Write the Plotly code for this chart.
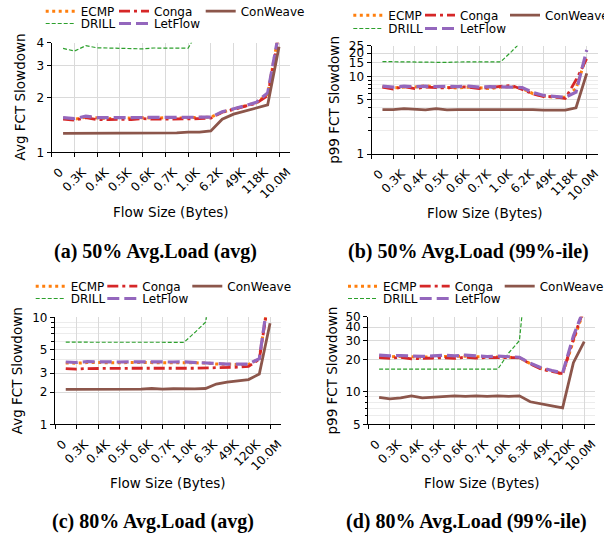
import math
import plotly.graph_objects as go

W, H = 604, 536

# ---------------- data ----------------
bin_x = [0.5, 1.0, 1.5, 2.0, 2.5, 3.0, 3.5, 4.0, 4.5, 5.0,
         5.5, 6.0, 6.5, 7.0, 7.5, 8.0, 8.5, 9.0, 9.5, 10.0]
tick_pos = [0, 1, 2, 3, 4, 5, 6, 7, 8, 9, 10]
ticks_50 = ["0", "0.3K", "0.4K", "0.5K", "0.6K", "0.7K", "1.0K", "6.2K", "49K", "118K", "10.0M"]
ticks_80 = ["0", "0.3K", "0.4K", "0.5K", "0.6K", "0.7K", "1.0K", "6.3K", "49K", "120K", "10.0M"]
schemes = ["ECMP", "DRILL", "Conga", "LetFlow", "ConWeave"]

# (a) 50% load, average slowdown
ecmp_a = [1.54, 1.52, 1.56, 1.54, 1.53, 1.55, 1.54, 1.55, 1.54, 1.55, 1.54, 1.55, 1.55, 1.56, 1.66, 1.73, 1.79, 1.87, 2.08, 4.6]
drill_a = [3.72, 3.60, 3.85, 3.75, 3.74, 3.73, 3.72, 3.70, 3.74, 3.73, 3.74, 3.73, 4.8, 8.0, 12, 16, 20, 25, 35, 60]
conga_a = [1.52, 1.50, 1.55, 1.51, 1.51, 1.52, 1.51, 1.53, 1.52, 1.52, 1.53, 1.53, 1.53, 1.54, 1.66, 1.72, 1.78, 1.86, 2.05, 4.4]
letflow_a = [1.55, 1.53, 1.58, 1.55, 1.55, 1.55, 1.55, 1.56, 1.55, 1.55, 1.56, 1.55, 1.56, 1.56, 1.67, 1.73, 1.80, 1.88, 2.12, 4.6]
conweave_a = [1.27, 1.27, 1.28, 1.27, 1.28, 1.27, 1.28, 1.27, 1.28, 1.28, 1.28, 1.29, 1.29, 1.31, 1.52, 1.62, 1.68, 1.75, 1.82, 3.8]

# (b) 50% load, p99 slowdown
ecmp_b = [7.4, 7.1, 7.3, 7.3, 7.6, 7.3, 7.2, 7.1, 7.3, 7.2, 7.0, 7.3, 7.4, 7.0, 6.0, 5.6, 5.4, 5.4, 7.0, 19]
drill_b = [15.6, 15.5, 15.6, 15.5, 15.4, 15.4, 15.2, 15.4, 15.5, 15.5, 15.5, 15.5, 21, 29, 45, 60, 70, 80, 90, 120]
conga_b = [7.3, 6.9, 7.4, 7.0, 7.3, 7.2, 7.1, 7.4, 7.3, 7.0, 7.2, 7.4, 7.7, 6.8, 5.95, 5.5, 5.5, 5.2, 9.0, 17]
letflow_b = [7.5, 7.3, 7.5, 7.4, 7.5, 7.4, 7.5, 7.4, 7.5, 7.3, 7.4, 7.4, 7.3, 7.2, 6.2, 5.7, 5.5, 5.4, 6.3, 22]
conweave_b = [3.75, 3.75, 3.85, 3.75, 3.72, 3.85, 3.72, 3.75, 3.75, 3.75, 3.72, 3.80, 3.80, 3.78, 3.75, 3.68, 3.65, 3.68, 3.95, 11]

# (c) 80% load, average slowdown
ecmp_c = [3.75, 3.72, 3.78, 3.76, 3.77, 3.76, 3.78, 3.76, 3.77, 3.76, 3.76, 3.77, 3.75, 3.74, 3.66, 3.62, 3.62, 3.62, 4.1, 19]
drill_c = [5.85, 5.85, 5.85, 5.80, 5.80, 5.80, 5.82, 5.80, 5.80, 5.82, 5.82, 5.84, 7.2, 9.0, 30, 45, 60, 70, 80, 100]
conga_c = [3.32, 3.28, 3.32, 3.34, 3.33, 3.33, 3.34, 3.33, 3.34, 3.33, 3.33, 3.34, 3.34, 3.35, 3.37, 3.40, 3.42, 3.48, 4.05, 18]
letflow_c = [3.82, 3.78, 3.85, 3.82, 3.83, 3.82, 3.84, 3.82, 3.84, 3.82, 3.82, 3.83, 3.80, 3.78, 3.70, 3.65, 3.65, 3.65, 4.1, 20]
conweave_c = [2.12, 2.12, 2.14, 2.15, 2.12, 2.13, 2.14, 2.13, 2.16, 2.13, 2.15, 2.14, 2.14, 2.16, 2.38, 2.48, 2.56, 2.62, 2.95, 8.8]

# (d) 80% load, p99 slowdown
ecmp_d = [21.5, 21.2, 21.4, 21.1, 21.0, 21.3, 21.4, 21.2, 21.5, 21.2, 21.0, 21.1, 21.0, 20.8, 18.3, 16.5, 15.6, 14.6, 30, 58]
drill_d = [16.3, 16.3, 16.2, 16.2, 16.3, 16.3, 16.4, 16.3, 16.3, 16.2, 16.2, 16.3, 23, 30, 300, 350, 400, 450, 500, 600]
conga_d = [20.8, 20.5, 21.0, 20.3, 20.5, 20.6, 20.8, 20.5, 21.0, 20.6, 20.9, 20.8, 20.7, 20.8, 18.2, 16.3, 15.5, 14.8, 31, 60]
letflow_d = [22.0, 21.6, 21.8, 21.5, 21.4, 21.6, 21.9, 21.6, 22.0, 21.6, 21.3, 21.5, 21.4, 21.0, 18.5, 16.8, 15.8, 15.0, 33, 60]
conweave_d = [8.9, 8.6, 8.8, 9.2, 8.8, 8.9, 9.1, 9.2, 9.1, 9.2, 9.1, 9.2, 9.1, 9.2, 8.1, 7.7, 7.4, 7.1, 18.7, 29.3]

# ---------------- styles ----------------
styles = {
    "ECMP": dict(color="#ff7f0e", width=3.0, dash="3px,3.5px"),
    "DRILL": dict(color="#2ca02c", width=1.2, dash="4px,2px"),
    "Conga": dict(color="#d62728", width=2.8, dash="11px,4px,3px,4px"),
    "LetFlow": dict(color="#9467bd", width=3.2, dash="12px,5px"),
    "ConWeave": dict(color="#8c564b", width=2.8, dash="solid"),
}

FONT = "DejaVu Sans"


def px_x(v):
    return v / W


def px_y(v):
    return 1 - v / H


panels = [
    dict(series=[ecmp_a, drill_a, conga_a, letflow_a, conweave_a], ticks=ticks_50,
         xdom=(51.7, 290.4), ydom=(42.7, 152.3), yr=(1, 4),
         yt=[1, 2, 3, 4], minor=[],
         ytitle="Avg FCT Slowdown", ytx=19, caption="(a) 50% Avg.Load (avg)", cap=(155, 251.7),
         xt=(171, 211.7),
         leg_rows=(11.2, 23.5), leg_cols=(66.7, 140.0, 226.7), leg_fix=19),
    dict(series=[ecmp_b, drill_b, conga_b, letflow_b, conweave_b], ticks=ticks_50,
         xdom=(371.7, 597.5), ydom=(45.7, 154.0), yr=(1, 25),
         yt=[1, 5, 10, 15, 20, 25], minor=[2, 3, 4, 6, 7, 8, 9],
         ytitle="p99 FCT Slowdown", ytx=334, caption="(b) 50% Avg.Load (99%-ile)", cap=(468, 251.7),
         xt=(484.6, 212.7),
         leg_rows=(15.2, 28.5), leg_cols=(388.3, 460.0, 545.0), leg_fix=5),
    dict(series=[ecmp_c, drill_c, conga_c, letflow_c, conweave_c], ticks=ticks_80,
         xdom=(55.0, 280.8), ydom=(317.3, 424.3), yr=(1, 10),
         yt=[1, 2, 3, 5, 10], minor=[4, 6, 7, 8, 9],
         ytitle="Avg FCT Slowdown", ytx=16.5, caption="(c) 80% Avg.Load (avg)", cap=(152.5, 521.0),
         xt=(168, 482.7),
         leg_rows=(286.2, 298.5), leg_cols=(71.7, 143.3, 228.3), leg_fix=4),
    dict(series=[ecmp_d, drill_d, conga_d, letflow_d, conweave_d], ticks=ticks_80,
         xdom=(368.3, 595.0), ydom=(316.7, 424.3), yr=(5, 50),
         yt=[5, 10, 20, 30, 40, 50], minor=[6, 7, 8, 9],
         ytitle="p99 FCT Slowdown", ytx=331, caption="(d) 80% Avg.Load (99%-ile)", cap=(466, 521.7),
         xt=(481.7, 482.7),
         leg_rows=(286.2, 298.5), leg_cols=(385.0, 456.7, 541.7), leg_fix=3),
]

# legend slot (row, col) of each scheme
slot = {"ECMP": (0, 0), "Conga": (0, 1), "ConWeave": (0, 2), "DRILL": (1, 0), "LetFlow": (1, 1)}

fig = go.Figure()
layout = dict(width=W, height=H, margin=dict(l=0, r=0, t=0, b=0, autoexpand=False),
              paper_bgcolor="white", plot_bgcolor="white",
              font=dict(family=FONT, size=12, color="black"),
              annotations=[], showlegend=True)

legend_idx = 0
for p_i, p in enumerate(panels):
    n = "" if p_i == 0 else str(p_i + 1)
    xa, ya = "x" + n, "y" + n
    for s_i, name in enumerate(schemes):
        legend_idx += 1
        lname = "legend" if legend_idx == 1 else "legend%d" % legend_idx
        st = styles[name]
        fig.add_trace(go.Scatter(
            x=bin_x, y=p["series"][s_i], mode="lines", name=name,
            line=dict(color=st["color"], width=st["width"], dash=st["dash"]),
            xaxis=xa, yaxis=ya, legend=lname, showlegend=True))
        r, c = slot[name]
        text_x = p["leg_cols"][c] + p["leg_fix"]
        layout[lname] = dict(
            x=px_x(text_x - 45), y=px_y(p["leg_rows"][r]), xanchor="left", yanchor="middle",
            orientation="h", bgcolor="rgba(0,0,0,0)", borderwidth=0,
            font=dict(family=FONT, size=12, color="black"), itemwidth=30)

    layout["xaxis" + n] = dict(
        domain=[px_x(p["xdom"][0]), px_x(p["xdom"][1])], anchor=ya,
        range=[0, 10.5], tickmode="array", tickvals=tick_pos, ticktext=p["ticks"],
        tickangle=-45, ticklabelshift=8, ticklabelstandoff=3, tickfont=dict(family=FONT, size=12),
        showgrid=True, gridcolor="#dadada", gridwidth=1, zeroline=False,
        showline=True, linecolor="black", linewidth=1.3,
        ticks="outside", ticklen=4, tickcolor="black", tickwidth=1.2)
    ymin, ymax = p["yr"]
    yax = dict(
        domain=[px_y(p["ydom"][1]), px_y(p["ydom"][0])], anchor=xa, type="log",
        range=[math.log10(ymin), math.log10(ymax)], tickmode="array",
        tickvals=p["yt"], ticktext=[str(v) for v in p["yt"]],
        tickfont=dict(family=FONT, size=12),
        showgrid=True, gridcolor="#dadada", gridwidth=1, zeroline=False,
        showline=True, linecolor="black", linewidth=1.3,
        ticks="outside", ticklen=4, tickcolor="black", tickwidth=1.2)
    if p["minor"]:
        yax["minor"] = dict(tickmode="array", tickvals=p["minor"], ticks="outside", ticklen=2.5,
                            tickcolor="black", showgrid=True, gridcolor="#ececec", gridwidth=1)
    layout["yaxis" + n] = yax

    yc = (p["ydom"][0] + p["ydom"][1]) / 2
    layout["annotations"] += [
        dict(text=p["ytitle"], x=px_x(p["ytx"]), y=px_y(yc), xref="paper", yref="paper",
             textangle=-90, showarrow=False, xanchor="center", yanchor="middle",
             font=dict(family=FONT, size=13.5, color="black")),
        dict(text="Flow Size (Bytes)", x=px_x(p["xt"][0]), y=px_y(p["xt"][1]), xref="paper", yref="paper",
             showarrow=False, xanchor="center", yanchor="middle",
             font=dict(family=FONT, size=13.5, color="black")),
        dict(text="<b>%s</b>" % p["caption"], x=px_x(p["cap"][0]), y=px_y(p["cap"][1]),
             xref="paper", yref="paper", showarrow=False, xanchor="center", yanchor="middle",
             font=dict(family="Liberation Serif", size=20, color="black")),
    ]

fig.update_layout(**layout)
fig.write_html("out.html")
